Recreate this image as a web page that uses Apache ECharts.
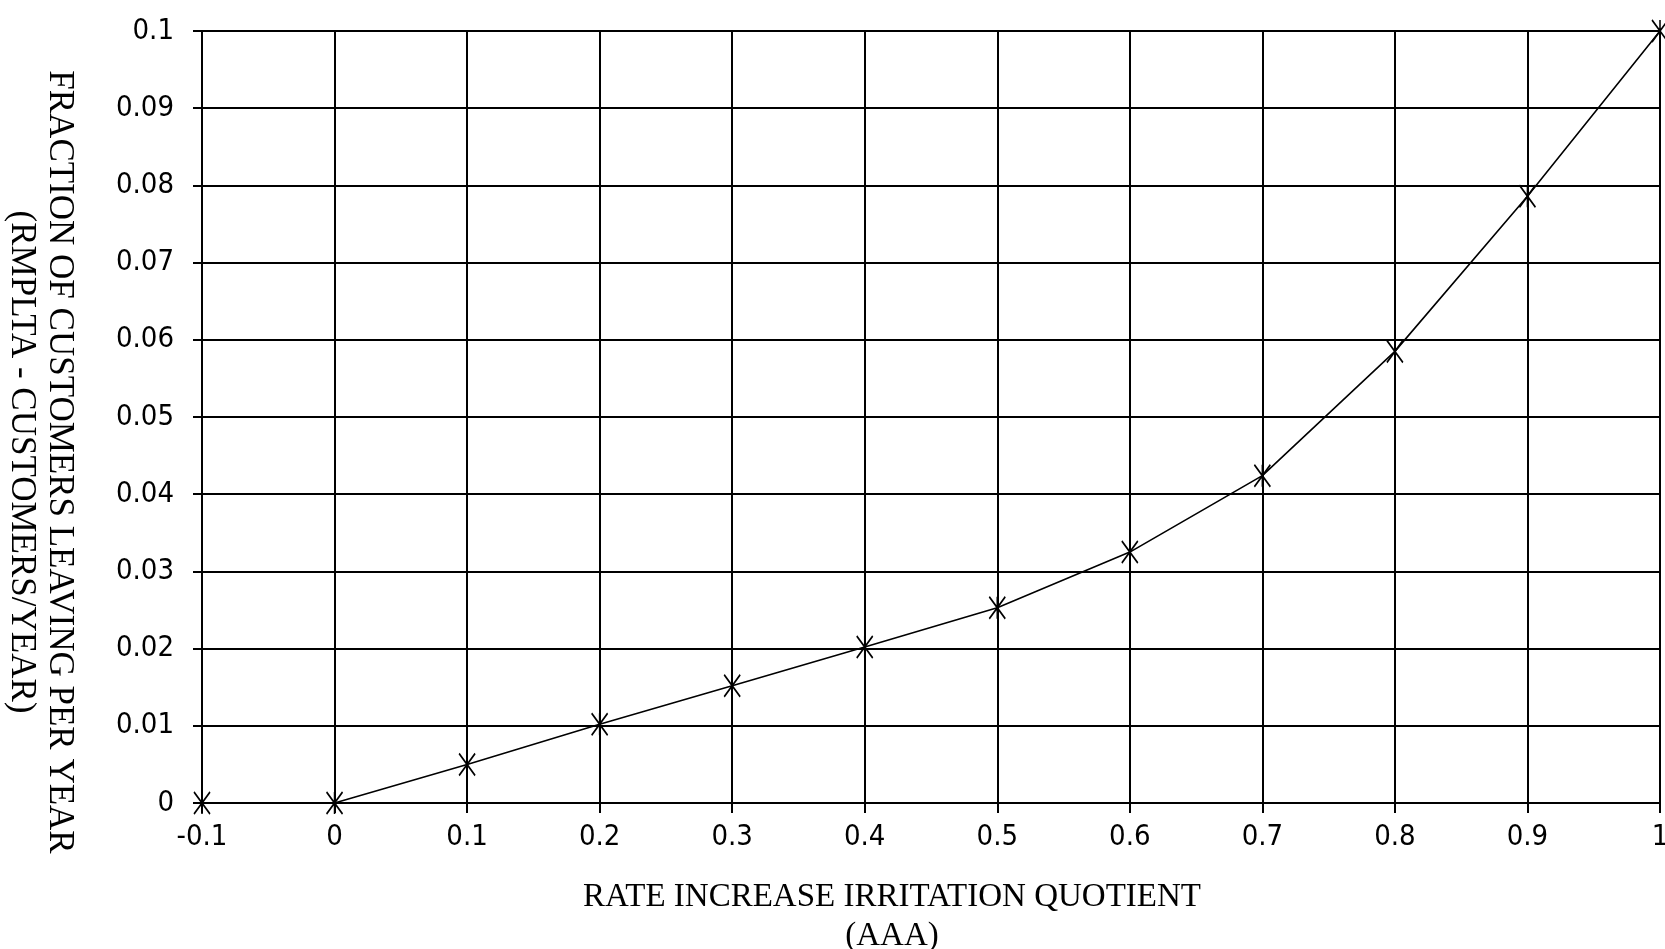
<!DOCTYPE html>
<html>
<head>
<meta charset="utf-8">
<script src="https://cdn.jsdelivr.net/npm/echarts@6/dist/echarts.min.js"></script>
<style>
html,body{margin:0;padding:0;background:#fff;}
#chart{width:1665px;height:949px;}
</style>
</head>
<body>
<div id="chart"></div>
<script>
var xValues = [-0.1, 0, 0.1, 0.2, 0.3, 0.4, 0.5, 0.6, 0.7, 0.8, 0.9, 1.0];
var yValues = [0, 0, 0.005, 0.0102, 0.0152, 0.0202, 0.0253, 0.0325, 0.0424, 0.0585, 0.0786, 0.1];
var xTitle = 'RATE INCREASE IRRITATION QUOTIENT\n(AAA)';
var yTitle = 'FRACTION OF CUSTOMERS LEAVING PER YEAR\n(RMPLTA - CUSTOMERS/YEAR)';

var points = xValues.map(function (x, i) { return [x, yValues[i]]; });
var tickFont = '"DejaVu Sans Condensed", "Liberation Sans Narrow", sans-serif';
var titleFont = '"Liberation Serif", "DejaVu Serif", serif';

var chart = echarts.init(document.getElementById('chart'));
chart.setOption({
  backgroundColor: '#fff',
  animation: false,
  grid: { left: 202, right: 5, top: 31, bottom: 146, containLabel: false, outerBoundsMode: 'none' },
  xAxis: {
    type: 'value', min: -0.1, max: 1, interval: 0.1,
    name: xTitle, nameLocation: 'middle', nameGap: 75,
    nameTextStyle: { fontFamily: titleFont, fontSize: 33, color: '#000', lineHeight: 39, padding: [0, 78, 0, 0] },
    axisLine: { show: true, onZero: false, lineStyle: { color: '#000', width: 2 } },
    axisTick: { show: true, length: 10, lineStyle: { color: '#000', width: 2 } },
    axisLabel: {
      color: '#000', fontFamily: tickFont, fontSize: 29, margin: 20,
      formatter: function (v) { return String(Math.round(v * 10) / 10); }
    },
    splitLine: { show: true, lineStyle: { color: '#000', width: 2 } }
  },
  yAxis: {
    type: 'value', min: 0, max: 0.1, interval: 0.01,
    name: yTitle, nameLocation: 'middle', nameGap: 124, nameRotate: -90,
    nameTextStyle: { fontFamily: titleFont, fontSize: 35, color: '#000', lineHeight: 38, padding: [0, 0, 0, 90] },
    axisLine: { show: true, onZero: false, lineStyle: { color: '#000', width: 2 } },
    axisTick: { show: true, length: 9, lineStyle: { color: '#000', width: 2 } },
    axisLabel: {
      color: '#000', fontFamily: tickFont, fontSize: 29, margin: 28,
      formatter: function (v) { return String(parseFloat(v.toFixed(2))); }
    },
    splitLine: { show: true, lineStyle: { color: '#000', width: 2 } }
  },
  series: [{
    type: 'line',
    data: points,
    smooth: false,
    symbol: 'path://M0,0L16,22M16,0L0,22M8,0L8,22',
    symbolSize: [16, 22],
    itemStyle: { color: 'rgba(0,0,0,0)', borderColor: '#000', borderWidth: 1.8 },
    lineStyle: { color: '#000', width: 1.6 },
    z: 5
  }]
});
</script>
</body>
</html>
